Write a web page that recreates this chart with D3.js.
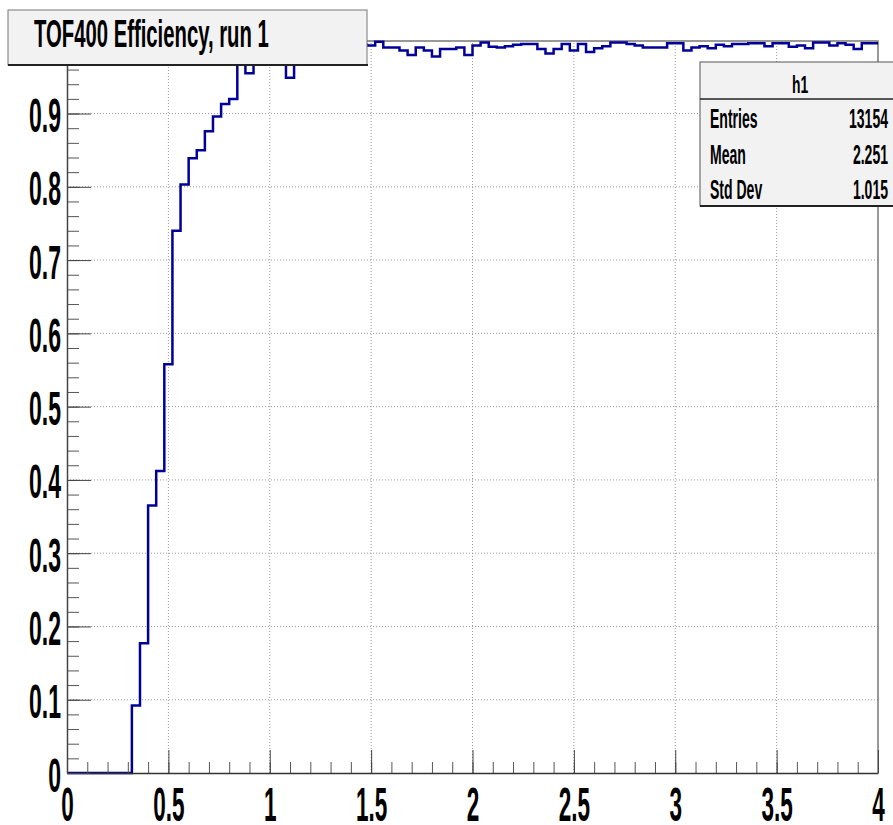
<!DOCTYPE html>
<html>
<head>
<meta charset="utf-8">
<script src="https://cdn.jsdelivr.net/npm/d3@7"></script>
<style>
  body { margin: 0; background: #fff; }
  text { font-family: "Liberation Sans", Arial, sans-serif; font-weight: bold; fill: #000; }
</style>
</head>
<body>
<div id="chart"></div>
<script>
const WIDTH = 893;
const HEIGHT = 825;
const X_LEFT = 67;
const X_RIGHT = 878;
const Y_BOTTOM = 773;
const Y_TOP = 41;

const TITLE = "TOF400 Efficiency, run 1";
const X_MIN = 0;
const X_MAX = 4;
const Y_MAX = 0.999;

// efficiency per bin, 100 bins of 0.04 between 0 and 4
const efficiency = [
  0, 0, 0, 0, 0, 0, 0, 0, 0.092, 0.177,
  0.365, 0.412, 0.558, 0.740, 0.803, 0.839, 0.850, 0.876, 0.896, 0.913,
  0.920, 0.985, 0.955, 0.988, 0.992, 0.986, 0.990, 0.949, 0.991, 0.987,
  0.993, 0.989, 0.994, 0.990, 0.988, 0.992, 0.994, 0.993, 0.998, 0.990,
  0.990, 0.986, 0.980, 0.990, 0.986, 0.978, 0.988, 0.988, 0.990, 0.980,
  0.993, 0.997, 0.991, 0.990, 0.992, 0.994, 0.995, 0.995, 0.988, 0.982,
  0.988, 0.995, 0.986, 0.995, 0.984, 0.989, 0.992, 0.997, 0.997, 0.995,
  0.993, 0.990, 0.990, 0.990, 0.996, 0.996, 0.986, 0.990, 0.992, 0.989,
  0.994, 0.992, 0.995, 0.995, 0.996, 0.996, 0.992, 0.996, 0.996, 0.991,
  0.993, 0.989, 0.997, 0.997, 0.993, 0.996, 0.994, 0.988, 0.996, 0.996
];

const xTicks = [0, 0.5, 1, 1.5, 2, 2.5, 3, 3.5, 4];
const yTicks = [0, 0.1, 0.2, 0.3, 0.4, 0.5, 0.6, 0.7, 0.8, 0.9];
const xMinorTicks = d3.range(0, 41).map(i => i / 10);
const yMinorTicks = d3.range(0, 50).map(i => i / 50);

const statsHeader = "h1";
const statNames = ["Entries", "Mean", "Std Dev"];
const statValues = ["13154", "2.251", "1.015"];

const svg = d3.select("#chart")
  .append("svg")
  .attr("width", WIDTH)
  .attr("height", HEIGHT);

const xScale = d3.scaleLinear().domain([X_MIN, X_MAX]).range([X_LEFT, X_RIGHT]);
const yScale = d3.scaleLinear().domain([0, Y_MAX]).range([Y_BOTTOM, Y_TOP]);

// the ROOT picture is squeezed sideways, so text is too
function squeeze(sel, x, y, sx) {
  sel.attr("x", 0).attr("y", 0).attr("dy", null)
    .attr("transform", `translate(${x},${y}) scale(${sx},1)`);
}

// grid
svg.append("g")
  .selectAll("line")
  .data(xTicks.filter(d => d > X_MIN && d < X_MAX))
  .enter()
  .append("line")
  .attr("x1", d => xScale(d)).attr("x2", d => xScale(d))
  .attr("y1", Y_BOTTOM).attr("y2", Y_TOP)
  .attr("stroke", "#9a9a9a")
  .attr("stroke-dasharray", "1,2");

svg.append("g")
  .selectAll("line")
  .data(yTicks.filter(d => d > 0))
  .enter()
  .append("line")
  .attr("x1", X_LEFT).attr("x2", X_RIGHT)
  .attr("y1", d => yScale(d)).attr("y2", d => yScale(d))
  .attr("stroke", "#9a9a9a")
  .attr("stroke-dasharray", "1,2");

// frame top and right
svg.append("path")
  .attr("d", `M${X_LEFT},${Y_TOP}H${X_RIGHT}V${Y_BOTTOM}`)
  .attr("fill", "none")
  .attr("stroke", "#777")
  .attr("stroke-width", 1.5);

// histogram
const binWidth = (X_MAX - X_MIN) / efficiency.length;
const points = efficiency.map((v, i) => [X_MIN + i * binWidth, v]);
points.push([X_MAX, efficiency[efficiency.length - 1]]);

const line = d3.line()
  .x(d => xScale(d[0]))
  .y(d => yScale(d[1]))
  .curve(d3.curveStepAfter);

svg.append("path")
  .datum(points)
  .attr("d", line)
  .attr("fill", "none")
  .attr("stroke", "#000099")
  .attr("stroke-width", 2.5);

// minor ticks
const xMinor = svg.append("g")
  .attr("transform", `translate(0, ${Y_BOTTOM})`)
  .call(d3.axisBottom(xScale).tickValues(xMinorTicks).tickSize(-11).tickFormat(""));
xMinor.select(".domain").remove();
xMinor.selectAll("line").attr("stroke", "#555");

const yMinor = svg.append("g")
  .attr("transform", `translate(${X_LEFT}, 0)`)
  .call(d3.axisLeft(yScale).tickValues(yMinorTicks).tickSize(-12).tickFormat(""));
yMinor.select(".domain").remove();
yMinor.selectAll("line").attr("stroke", "#555");

// major ticks and labels
const xAxis = svg.append("g")
  .attr("transform", `translate(0, ${Y_BOTTOM})`)
  .call(d3.axisBottom(xScale).tickValues(xTicks).tickSize(-23).tickSizeOuter(0)
    .tickFormat(d => String(d)));
xAxis.select(".domain").attr("stroke", "#333").attr("stroke-width", 1.5);
xAxis.selectAll("line").attr("stroke", "#444");
xAxis.selectAll("text")
  .style("font-size", "49px")
  .attr("fill", "#000")
  .each(function () { squeeze(d3.select(this), 0, 48, 0.46); });

const yAxis = svg.append("g")
  .attr("transform", `translate(${X_LEFT}, 0)`)
  .call(d3.axisLeft(yScale).tickValues(yTicks).tickSize(-24).tickSizeOuter(0)
    .tickFormat(d => String(d)));
yAxis.select(".domain").attr("stroke", "#444").attr("stroke-width", 1.5);
yAxis.selectAll("line").attr("stroke", "#444");
yAxis.selectAll("text")
  .style("font-size", "49px")
  .attr("fill", "#000")
  .each(function () { squeeze(d3.select(this), -6, 18, 0.47); });

// title box
svg.append("rect")
  .attr("x", 8).attr("y", 10)
  .attr("width", 359).attr("height", 55)
  .attr("fill", "#f2f2f2")
  .attr("stroke", "#777");
svg.append("line")
  .attr("x1", 8).attr("x2", 368)
  .attr("y1", 65).attr("y2", 65)
  .attr("stroke", "#222").attr("stroke-width", 2);
svg.append("text")
  .style("font-size", "39px")
  .text(TITLE)
  .call(squeeze, 34, 47, 0.52);

// stats box
svg.append("rect")
  .attr("x", 700).attr("y", 62)
  .attr("width", 200).attr("height", 144)
  .attr("fill", "#f2f2f2")
  .attr("stroke", "#555");
svg.append("line")
  .attr("x1", 700).attr("x2", 900)
  .attr("y1", 206).attr("y2", 206)
  .attr("stroke", "#222").attr("stroke-width", 2);
svg.append("line")
  .attr("x1", 700).attr("x2", 900)
  .attr("y1", 99).attr("y2", 99)
  .attr("stroke", "#222").attr("stroke-width", 1.5);
svg.append("text")
  .style("font-size", "24px")
  .style("text-anchor", "middle")
  .text(statsHeader)
  .call(squeeze, 800, 92.5, 0.58);

const rowY = [128, 163.5, 199];
statNames.forEach((name, i) => {
  svg.append("text")
    .style("font-size", "27px")
    .text(name)
    .call(squeeze, 710, rowY[i], 0.52);
  svg.append("text")
    .style("font-size", "27px")
    .style("text-anchor", "end")
    .text(statValues[i])
    .call(squeeze, 888, rowY[i], 0.52);
});
</script>
</body>
</html>
